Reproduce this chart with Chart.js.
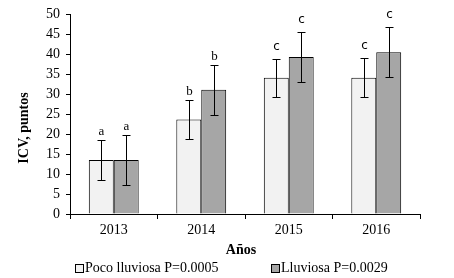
<!DOCTYPE html>
<html>
<head>
<meta charset="utf-8">
<script src="https://cdn.jsdelivr.net/npm/chart.js@4"></script>
<style>
  body { margin: 0; background: #fff; }
</style>
</head>
<body>
<canvas id="grafico" width="454" height="278"></canvas>
<script>
// Datos
const anos = ['2013', '2014', '2015', '2016'];
const pocoLluviosa = [13.5, 23.7, 34.1, 34.1];
const lluviosa = [13.5, 31.1, 39.3, 40.5];
const errPoco = [5.0, 4.8, 4.8, 4.9];
const errLluviosa = [6.3, 6.2, 6.2, 6.3];
const letrasPoco = ['a', 'b', 'c', 'c'];
const letrasLluviosa = ['a', 'b', 'c', 'c'];
const etiquetasSerie = ['Poco lluviosa P=0.0005', 'Lluviosa P=0.0029'];

const serif = "'Liberation Serif', 'Times New Roman', serif";

// barras de error + letras + titulos + leyenda
const extras = {
    id: 'extras',
    afterDatasetsDraw(chart) {
        const ctx = chart.ctx;
        const y = chart.scales.y;
        const errores = [errPoco, errLluviosa];
        const letras = [letrasPoco, letrasLluviosa];
        ctx.save();
        ctx.strokeStyle = '#000';
        ctx.fillStyle = '#000';
        ctx.lineWidth = 1;
        chart.data.datasets.forEach((ds, i) => {
            chart.getDatasetMeta(i).data.forEach((bar, j) => {
                const x = Math.round(bar.x) + 0.5;
                const v = ds.data[j];
                const top = Math.round(y.getPixelForValue(v + errores[i][j])) + 0.5;
                const bot = Math.round(y.getPixelForValue(v - errores[i][j])) + 0.5;
                ctx.beginPath();
                ctx.moveTo(x, top); ctx.lineTo(x, bot);
                ctx.moveTo(x - 4, top); ctx.lineTo(x + 4, top);
                ctx.moveTo(x - 4, bot); ctx.lineTo(x + 4, bot);
                ctx.stroke();
                const l = letras[i][j];
                ctx.font = l === 'c' ? "12px 'DejaVu Sans', sans-serif" : '13px ' + serif;
                ctx.textAlign = 'center';
                ctx.textBaseline = 'alphabetic';
                ctx.fillText(l, x, top - (l === 'c' ? 10 : 6));
            });
        });
        ctx.restore();
    },
    afterDraw(chart) {
        const ctx = chart.ctx;
        ctx.save();
        ctx.fillStyle = '#000';
        // titulo eje y
        ctx.font = 'bold 14px ' + serif;
        ctx.textAlign = 'center';
        ctx.textBaseline = 'middle';
        ctx.translate(24, 128);
        ctx.rotate(-Math.PI / 2);
        ctx.fillText('ICV, puntos', 0, 0);
        ctx.setTransform(1, 0, 0, 1, 0, 0);
        // titulo eje x
        ctx.fillText('Años', 241, 250);
        // leyenda
        ctx.font = '14px ' + serif;
        ctx.textAlign = 'left';
        const items = [[75, '#f2f2f2'], [271, '#a6a6a6']];
        items.forEach(([lx, color], i) => {
            ctx.fillStyle = color;
            ctx.fillRect(lx + 0.5, 264.5, 8, 8);
            ctx.strokeStyle = '#000';
            ctx.strokeRect(lx + 0.5, 264.5, 8, 8);
            ctx.fillStyle = '#000';
            ctx.fillText(etiquetasSerie[i], lx + 10, 268.5);
        });
        ctx.restore();
    }
};

new Chart(document.getElementById('grafico'), {
    type: 'bar',
    data: {
        labels: anos,
        datasets: [
            {
                label: etiquetasSerie[0],
                data: pocoLluviosa,
                backgroundColor: '#f2f2f2',
                borderColor: '#000',
                borderWidth: 1
            },
            {
                label: etiquetasSerie[1],
                data: lluviosa,
                backgroundColor: '#a6a6a6',
                borderColor: '#000',
                borderWidth: 1
            }
        ]
    },
    options: {
        responsive: false,
        animation: false,
        categoryPercentage: 0.57,
        barPercentage: 1.0,
        layout: { padding: { left: 0, top: 12, right: 34, bottom: 0 } },
        scales: {
            x: {
                grid: { offset: true, drawOnChartArea: false, tickLength: 5, color: '#000' },
                border: { color: '#000' },
                ticks: { color: '#000', font: { family: serif, size: 14 }, padding: 3 },
                afterFit: (s) => { s.height = 64; }
            },
            y: {
                min: 0,
                max: 50,
                grid: { drawOnChartArea: false, tickLength: 4, color: '#000' },
                border: { color: '#000' },
                ticks: { stepSize: 5, color: '#000', font: { family: serif, size: 14 }, padding: 6 },
                afterFit: (s) => { s.width = 70; }
            }
        },
        plugins: {
            legend: { display: false },
            tooltip: { enabled: false }
        }
    },
    plugins: [extras]
});
</script>
</body>
</html>
